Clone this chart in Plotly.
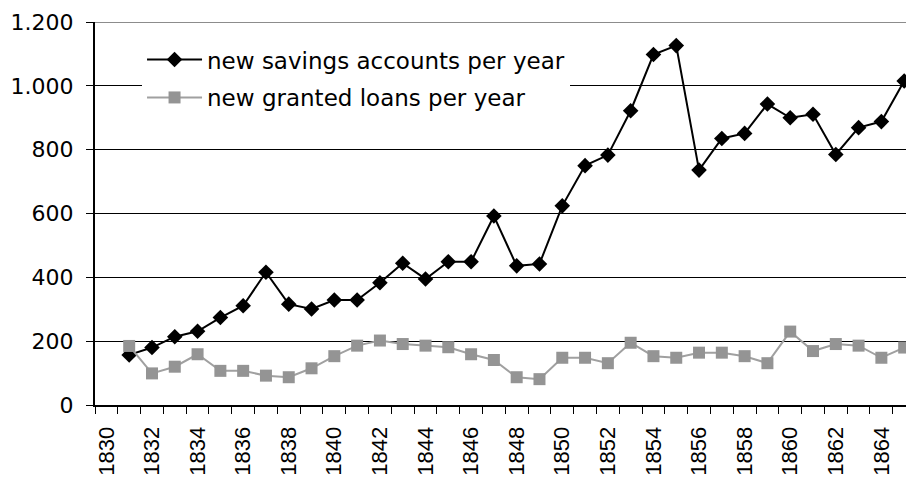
import plotly.graph_objects as go

years = list(range(1831, 1866))
savings = [157, 180, 214, 231, 274, 311, 416, 316, 301, 329, 329, 383, 444, 395, 449, 449,
           592, 436, 442, 624, 750, 783, 922, 1098, 1126, 736, 835, 851, 943, 900, 911, 785,
           869, 888, 1015]
loans = [185, 99, 120, 159, 107, 107, 92, 87, 115, 153, 186, 202, 191, 186, 181, 159, 141,
         87, 81, 148, 148, 131, 195, 153, 148, 164, 164, 153, 131, 230, 169, 191, 186, 148, 180]
tick_years = list(range(1830, 1865, 2))
tick_labels = [str(y) for y in tick_years]
y_ticks = [0, 200, 400, 600, 800, 1000, 1200]

fig = go.Figure()
fig.add_trace(go.Scatter(
    x=years, y=savings, mode="lines+markers", name="new savings accounts per year",
    legendgroup="a",
    line=dict(color="black", width=2),
    marker=dict(symbol="diamond", size=12, color="black"),
))
fig.add_trace(go.Scatter(
    x=years, y=loans, mode="lines+markers", name="new granted loans per year",
    legendgroup="b",
    line=dict(color="#A0A0A0", width=2),
    marker=dict(symbol="square", size=12, color="#949494"),
))

fig.add_shape(type="line", xref="paper", yref="y", x0=0, x1=1, y0=1200, y1=1200,
              line=dict(color="#8C8C8C", width=2), layer="above")

fig.update_layout(
    width=906, height=479,
    margin=dict(l=95, r=0, t=22, b=74, autoexpand=False),
    paper_bgcolor="white", plot_bgcolor="white",
    separators=",.",
    showlegend=True,
    legend=dict(
        x=0.058, y=0.958, xanchor="left", yanchor="top",
        bgcolor="white", borderwidth=0,
        font=dict(family="DejaVu Sans", size=23, color="black"),
        itemwidth=55, tracegroupgap=5,
    ),
    xaxis=dict(
        range=[1829.5, 1865.08], automargin=False,
        tickmode="array", tickvals=tick_years, ticktext=tick_labels,
        tickangle=-90, ticks="outside", ticklen=0,
        ticklabelstandoff=11,
        tickfont=dict(family="Liberation Sans", size=22, color="black"),
        showgrid=False, zeroline=False,
        showline=True, linecolor="black", linewidth=2,
        minor=dict(tick0=1829.5, dtick=1, ticks="outside", ticklen=7,
                   tickcolor="black", tickwidth=1, showgrid=False),
    ),
    yaxis=dict(
        range=[0, 1200], automargin=False,
        tickmode="array", tickvals=y_ticks, tickformat=",",
        ticks="outside", ticklen=7, tickcolor="black",
        ticklabelstandoff=8,
        tickfont=dict(family="DejaVu Sans", size=22, color="black"),
        showgrid=True, gridcolor="black", gridwidth=1,
        zeroline=False,
        showline=True, linecolor="black", linewidth=2,
    ),
)

fig.write_html("out.html", config={"displayModeBar": False},
               post_script="document.body.style.margin='0';document.body.style.overflow='hidden';")
